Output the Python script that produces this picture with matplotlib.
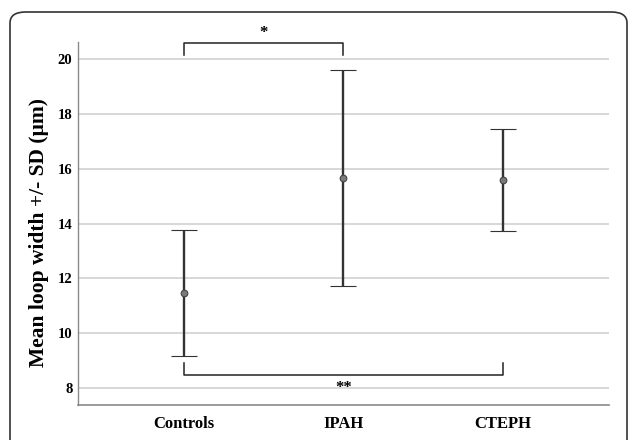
import matplotlib
matplotlib.use("Agg")
import matplotlib.pyplot as plt
from matplotlib.patches import FancyBboxPatch

categories = ["Controls", "IPAH", "CTEPH"]
means = [11.45, 15.67, 15.59]
sd = [2.30, 3.94, 1.85]
yticks = [8, 10, 12, 14, 16, 18, 20]

# significance brackets: (from category index, to category index, label)
sig_top = (0, 1, "*")
sig_bottom = (0, 2, "**")

plt.rcParams['font.family'] = ['Liberation Serif', 'DejaVu Serif']

fig = plt.figure(figsize=(6.29, 4.40), dpi=100)
ax = fig.add_axes([0.124, 0.0795, 0.844, 0.825])

xs = list(range(len(categories)))
ax.errorbar(xs, means, yerr=sd, fmt='o', color='#333333', ecolor='#333333',
            elinewidth=1.7, capsize=9.5, capthick=2.0, markersize=4.8,
            markerfacecolor='#7a7a7a', markeredgecolor='#444444',
            markeredgewidth=0.8, zorder=3)

ax.set_xlim(-0.667, 2.667)
ax.set_ylim(7.37, 20.63)
ax.set_yticks(yticks)
ax.set_xticks(xs)
ax.set_xticklabels(categories, fontsize=12, fontweight='bold')
for lab in ax.get_yticklabels():
    lab.set_fontsize(10.5)
    lab.set_fontweight('bold')
ax.tick_params(axis='both', length=0)
ax.tick_params(axis='y', pad=4)
ax.tick_params(axis='x', pad=8)
ax.grid(axis='y', color='#d4d4d4', linewidth=1.3)
ax.set_axisbelow(True)
for s in ['top', 'right']:
    ax.spines[s].set_visible(False)
ax.spines['left'].set_color('#8a8a8a')
ax.spines['bottom'].set_color('#8a8a8a')
ax.spines['left'].set_linewidth(1.0)
ax.spines['bottom'].set_linewidth(1.2)

ax.set_ylabel("Mean loop width +/- SD (µm)", fontsize=15.5, fontweight='bold')
ax.yaxis.set_label_coords(-0.0546, 0.474)

# top bracket
a, b, t = sig_top
ax.plot([a, a, b, b], [20.16, 20.58, 20.58, 20.16], color='#222222',
        lw=1.1, clip_on=False, zorder=4)
ax.text((a + b) / 2, 20.97, t, ha='center', va='center', fontsize=12,
        fontweight='bold', clip_on=False)
# bottom bracket
a, b, t = sig_bottom
ax.plot([a, a, b, b], [8.91, 8.47, 8.47, 8.91], color='#222222',
        lw=1.1, zorder=4)
ax.text((a + b) / 2, 8.0, t, ha='center', va='center', fontsize=12,
        fontweight='bold')

# outer rounded border (panel frame)
box = FancyBboxPatch((10 / 629, -0.2), 617 / 629, (440 - 12) / 440 + 0.2,
                     boxstyle="round,pad=0,rounding_size=0.025",
                     transform=fig.transFigure, fill=False,
                     edgecolor='#333333', linewidth=1.2, clip_on=False)
fig.patches.append(box)

fig.savefig("out.png", dpi=100)
